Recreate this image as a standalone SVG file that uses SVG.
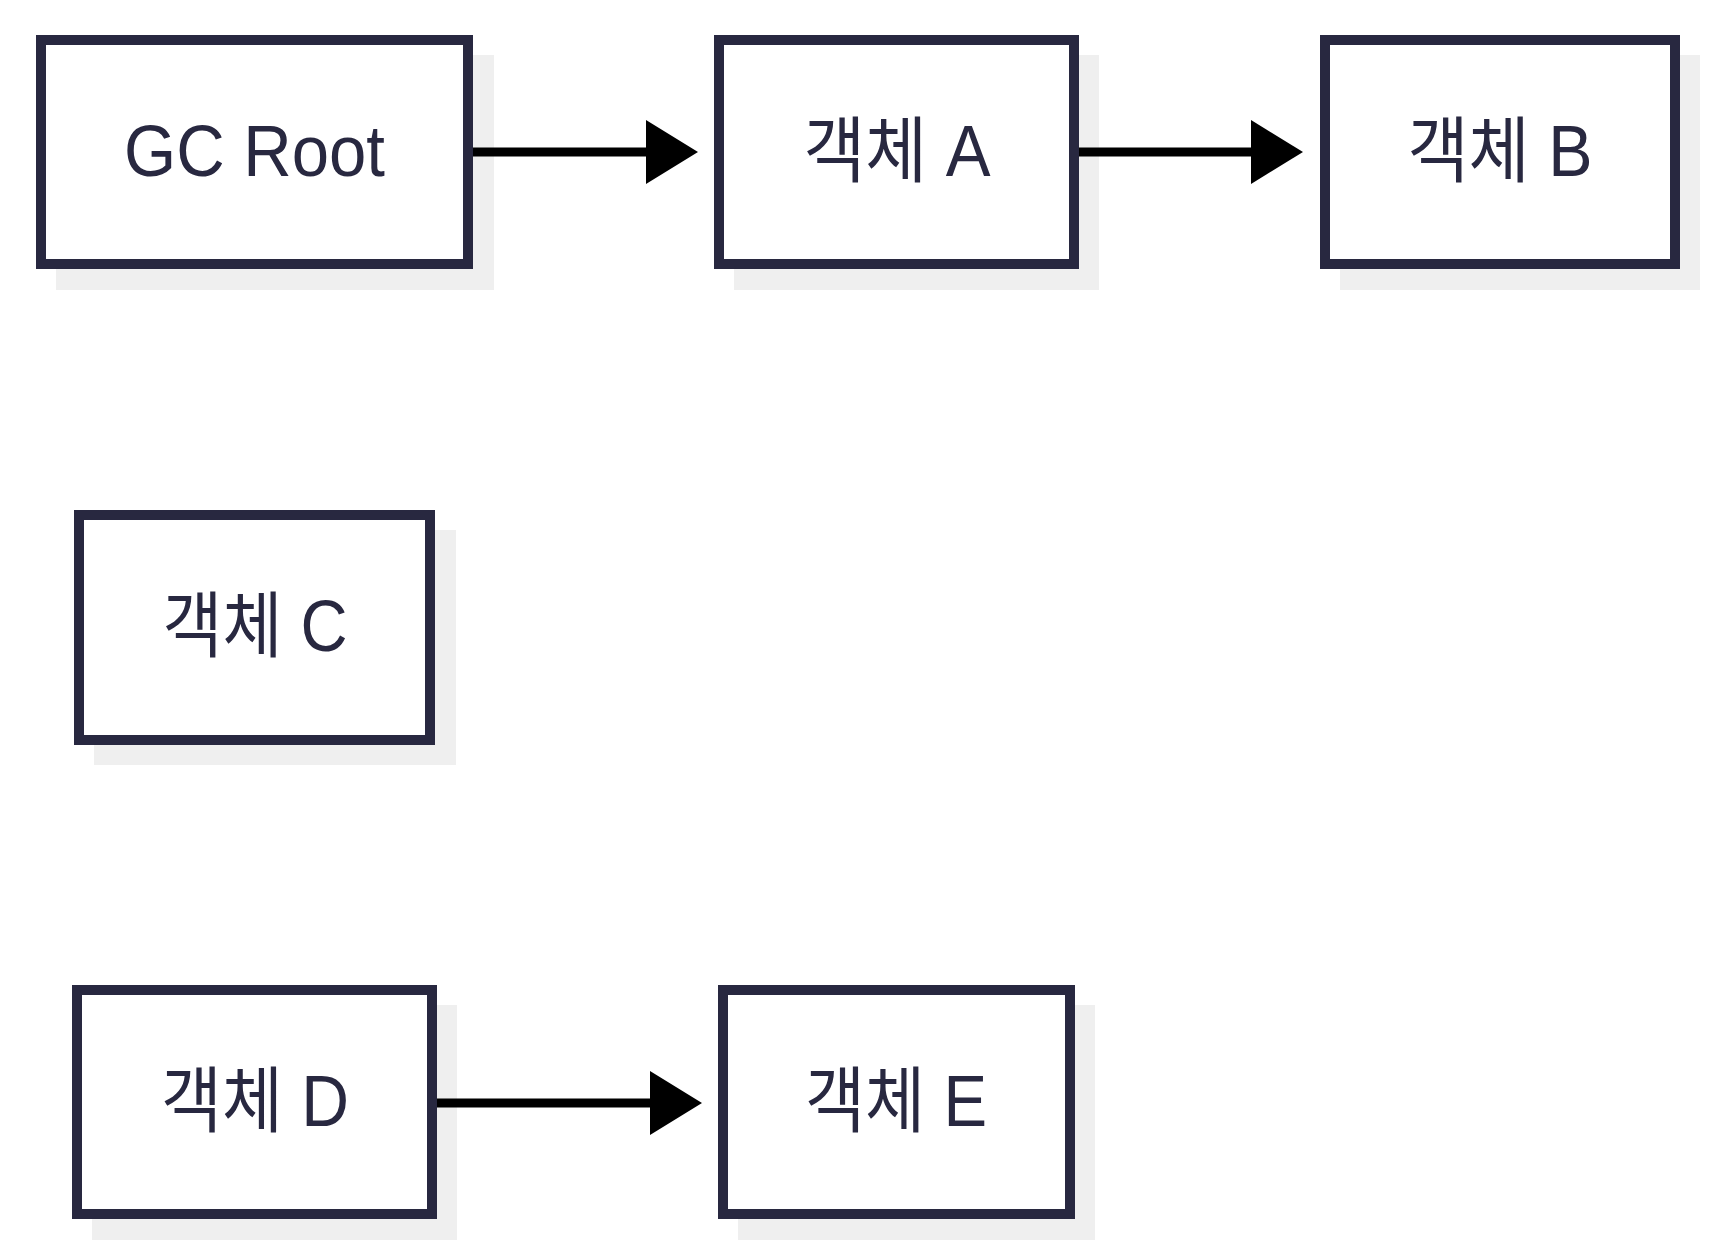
<svg xmlns="http://www.w3.org/2000/svg" width="1716" height="1255" viewBox="0 0 1716 1255">
<style>
.shadow{fill:#efefef;stroke:none}
.box{fill:#ffffff;stroke:#282840;stroke-width:10}
.lbl{font-family:"Liberation Sans","Noto Sans CJK KR",sans-serif;font-size:72px;fill:#282840;text-anchor:middle}
.edge{stroke:#000000;stroke-width:9;fill:none}
</style>
<defs>
<marker id="arrow" markerUnits="userSpaceOnUse" markerWidth="54" markerHeight="64" refX="2" refY="32" orient="auto">
<path d="M0,0 L52,32 L0,64 Z" fill="#000000"/>
</marker>
</defs>
<rect width="1716" height="1255" fill="#ffffff"/>
<g id="node-gcroot">
<rect class="shadow" x="56" y="55" width="438" height="235"/>
<rect class="box" x="41" y="40" width="427" height="224"/>
<text class="lbl" x="254.5" y="176" textLength="261" lengthAdjust="spacingAndGlyphs">GC Root</text>
</g>
<g id="node-a">
<rect class="shadow" x="734" y="55" width="365" height="235"/>
<rect class="box" x="719" y="40" width="355" height="224"/>
<text class="lbl" x="897" y="176" textLength="187" lengthAdjust="spacingAndGlyphs">객체 A</text>
</g>
<g id="node-b">
<rect class="shadow" x="1340" y="55" width="360" height="235"/>
<rect class="box" x="1325" y="40" width="350" height="224"/>
<text class="lbl" x="1500" y="176" textLength="185" lengthAdjust="spacingAndGlyphs">객체 B</text>
</g>
<g id="node-c">
<rect class="shadow" x="94" y="530" width="362" height="235"/>
<rect class="box" x="79" y="515" width="351" height="225"/>
<text class="lbl" x="255" y="651" textLength="185" lengthAdjust="spacingAndGlyphs">객체 C</text>
</g>
<g id="node-d">
<rect class="shadow" x="92" y="1005" width="365" height="235"/>
<rect class="box" x="77" y="990" width="355" height="224"/>
<text class="lbl" x="255" y="1126" textLength="188" lengthAdjust="spacingAndGlyphs">객체 D</text>
</g>
<g id="node-e">
<rect class="shadow" x="738" y="1005" width="357" height="235"/>
<rect class="box" x="723" y="990" width="347" height="224"/>
<text class="lbl" x="896" y="1126" textLength="182" lengthAdjust="spacingAndGlyphs">객체 E</text>
</g>
<g id="connectors">
<line class="edge" x1="473" y1="152" x2="648" y2="152" marker-end="url(#arrow)"/>
<line class="edge" x1="1079" y1="152" x2="1253" y2="152" marker-end="url(#arrow)"/>
<line class="edge" x1="437" y1="1103" x2="652" y2="1103" marker-end="url(#arrow)"/>
</g>
</svg>
